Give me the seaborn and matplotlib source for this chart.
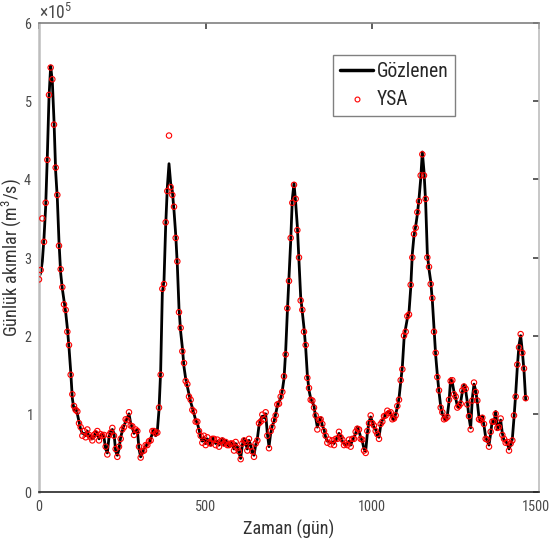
import matplotlib
matplotlib.use("Agg")
import matplotlib.pyplot as plt
import matplotlib.transforms as mtransforms
import seaborn as sns
import pandas as pd
from matplotlib import font_manager as fm
from matplotlib.ticker import ScalarFormatter
from matplotlib.lines import Line2D

# Day index (every 5th day)
days = list(range(0, 1461, 5))

# Observed daily flow (x 1e5 m3/s)
gozlenen = [
    2.75, 2.80, 2.95, 3.25, 3.65, 4.30, 5.05, 5.45, 5.25, 4.75,
    4.10, 3.75, 3.20, 2.80, 2.60, 2.45, 2.30, 2.10, 1.85, 1.55,
    1.20, 1.05, 1.08, 1.00, 0.90, 0.80, 0.75, 0.75, 0.72, 0.78,
    0.70, 0.72, 0.68, 0.70, 0.77, 0.75, 0.68, 0.72, 0.75, 0.70,
    0.55, 0.50, 0.70, 0.78, 0.80, 0.75, 0.52, 0.47, 0.55, 0.70,
    0.78, 0.85, 0.90, 0.95, 1.00, 0.88, 0.82, 0.75, 0.78, 0.80,
    0.55, 0.45, 0.50, 0.55, 0.58, 0.62, 0.63, 0.68, 0.75, 0.80,
    0.72, 0.78, 1.05, 1.55, 2.55, 2.70, 3.40, 3.90, 4.20, 3.95,
    3.85, 3.60, 3.30, 2.90, 2.35, 2.05, 1.85, 1.60, 1.45, 1.35,
    1.25, 1.15, 1.08, 1.00, 0.92, 0.88, 0.80, 0.70, 0.65, 0.70,
    0.62, 0.68, 0.65, 0.60, 0.70, 0.66, 0.62, 0.65, 0.60, 0.63,
    0.68, 0.60, 0.66, 0.62, 0.58, 0.64, 0.60, 0.55, 0.62, 0.58,
    0.50, 0.43, 0.60, 0.68, 0.62, 0.55, 0.66, 0.60, 0.50, 0.47,
    0.60, 0.68, 0.85, 0.93, 0.97, 0.95, 1.00, 0.75, 0.58, 0.75,
    0.85, 0.90, 1.00, 1.10, 1.15, 1.20, 1.30, 1.45, 1.80, 2.30,
    2.75, 3.20, 3.75, 3.95, 3.70, 3.40, 2.95, 2.50, 2.30, 2.10,
    1.85, 1.50, 1.30, 1.20, 1.15, 1.10, 0.95, 0.83, 0.90, 0.95,
    0.85, 0.80, 0.70, 0.65, 0.65, 0.63, 0.64, 0.62, 0.66, 0.70,
    0.75, 0.72, 0.65, 0.62, 0.60, 0.62, 0.65, 0.60, 0.66, 0.70,
    0.75, 0.83, 0.78, 0.70, 0.65, 0.55, 0.52, 0.75, 0.90, 0.96,
    0.90, 0.83, 0.80, 0.72, 0.70, 0.85, 0.92, 0.95, 1.00, 1.02,
    1.03, 1.00, 0.95, 0.92, 1.00, 1.08, 1.20, 1.40, 1.60, 1.95,
    2.10, 2.22, 2.30, 2.60, 3.05, 3.28, 3.40, 3.55, 3.75, 4.00,
    4.35, 4.10, 3.70, 3.05, 2.85, 2.70, 2.45, 2.10, 1.75, 1.50,
    1.28, 1.10, 1.00, 0.95, 0.92, 0.98, 1.15, 1.45, 1.40, 1.28,
    1.20, 1.10, 1.08, 1.15, 1.28, 1.37, 1.30, 1.15, 0.95, 0.82,
    1.20, 1.38, 1.30, 1.15, 0.95, 0.90, 0.97, 0.85, 0.70, 0.65,
    0.60, 0.75, 0.92, 0.88, 1.03, 0.80, 0.85, 0.92, 0.75, 0.66,
    0.65, 0.62, 0.55, 0.60, 0.68, 0.95, 1.25, 1.60, 1.88, 2.00,
    1.80, 1.55, 1.18,
]

# Model (YSA) output (x 1e5 m3/s)
ysa = [
    2.72, 2.84, 3.50, 3.20, 3.70, 4.25, 5.08, 5.43, 5.28, 4.70,
    4.15, 3.80, 3.15, 2.85, 2.62, 2.40, 2.33, 2.05, 1.88, 1.50,
    1.25, 1.10, 1.05, 1.03, 0.88, 0.83, 0.72, 0.78, 0.70, 0.80,
    0.73, 0.70, 0.66, 0.73, 0.75, 0.78, 0.66, 0.74, 0.72, 0.73,
    0.58, 0.48, 0.73, 0.76, 0.82, 0.72, 0.55, 0.45, 0.58, 0.68,
    0.80, 0.83, 0.93, 0.92, 1.02, 0.85, 0.84, 0.73, 0.80, 0.78,
    0.58, 0.44, 0.52, 0.53, 0.60, 0.60, 0.65, 0.66, 0.78, 0.78,
    0.75, 0.76, 1.08, 1.50, 2.60, 2.66, 3.45, 3.85, 4.56, 3.90,
    3.80, 3.65, 3.25, 2.95, 2.30, 2.10, 1.80, 1.65, 1.42, 1.38,
    1.22, 1.18, 1.05, 1.03, 0.90, 0.90, 0.78, 0.72, 0.63, 0.72,
    0.60, 0.70, 0.63, 0.62, 0.68, 0.68, 0.60, 0.67, 0.58, 0.65,
    0.66, 0.62, 0.64, 0.60, 0.60, 0.62, 0.62, 0.53, 0.64, 0.56,
    0.52, 0.42, 0.62, 0.66, 0.64, 0.53, 0.68, 0.58, 0.52, 0.45,
    0.62, 0.66, 0.88, 0.90, 0.99, 0.93, 1.02, 0.72, 0.56, 0.78,
    0.83, 0.92, 0.98, 1.12, 1.13, 1.22, 1.28, 1.48, 1.76, 2.35,
    2.70, 3.25, 3.70, 3.93, 3.75, 3.35, 3.00, 2.45, 2.33, 2.05,
    1.88, 1.46, 1.33, 1.18, 1.17, 1.08, 0.98, 0.80, 0.92, 0.93,
    0.87, 0.78, 0.72, 0.63, 0.67, 0.61, 0.66, 0.60, 0.68, 0.68,
    0.77, 0.70, 0.67, 0.60, 0.62, 0.60, 0.67, 0.58, 0.68, 0.68,
    0.77, 0.81, 0.80, 0.68, 0.67, 0.53, 0.50, 0.78, 0.88, 0.98,
    0.88, 0.85, 0.78, 0.74, 0.68, 0.87, 0.90, 0.97, 0.98, 1.04,
    1.01, 1.02, 0.93, 0.94, 0.98, 1.10, 1.18, 1.43, 1.57, 2.00,
    2.05, 2.25, 2.27, 2.65, 3.00, 3.30, 3.38, 3.58, 3.72, 4.05,
    4.32, 4.05, 3.75, 3.00, 2.88, 2.66, 2.48, 2.05, 1.78, 1.47,
    1.30, 1.08, 1.02, 0.93, 0.94, 0.96, 1.18, 1.42, 1.43, 1.25,
    1.22, 1.08, 1.10, 1.13, 1.30, 1.35, 1.32, 1.12, 0.97, 0.80,
    1.17, 1.40, 1.28, 1.17, 0.93, 0.92, 0.95, 0.87, 0.68, 0.67,
    0.58, 0.77, 0.90, 0.90, 1.00, 0.82, 0.83, 0.94, 0.73, 0.68,
    0.63, 0.64, 0.53, 0.62, 0.66, 0.98, 1.22, 1.63, 1.85, 2.02,
    1.78, 1.58, 1.20,
]

x_ticks = [0, 500, 1000, 1500]
y_ticks = [0, 1e5, 2e5, 3e5, 4e5, 5e5, 6e5]

df = pd.DataFrame({
    "gun": days,
    "gozlenen": [v * 1e5 for v in gozlenen],
    "ysa": [v * 1e5 for v in ysa],
})

sns.set_theme(style="white")

# pick a narrow sans font if one is installed
entries = fm.fontManager.ttflist
names = {f.name for f in entries}
fam, stretch, k = "Liberation Sans", "normal", 0.84
if "Liberation Sans Narrow" in names:
    fam, stretch, k = "Liberation Sans Narrow", "normal", 1.0
elif "Roboto Condensed" in names:
    fam, stretch, k = "Roboto Condensed", "normal", 0.97
plt.rcParams["font.family"] = [fam, "DejaVu Sans"]
plt.rcParams["font.stretch"] = stretch
plt.rcParams["mathtext.fontset"] = "custom"
plt.rcParams["mathtext.rm"] = fam
plt.rcParams["mathtext.it"] = fam

fig = plt.figure(figsize=(5.51, 5.53), dpi=100)
ax = fig.add_axes([39 / 551, 61 / 553, 500 / 551, 469 / 553])

sns.lineplot(data=df, x="gun", y="gozlenen", ax=ax, color="black",
             linewidth=2.0, zorder=2)
sns.scatterplot(data=df, x="gun", y="ysa", ax=ax, marker="o",
                facecolor="none", edgecolor="red", linewidth=0.8, s=15,
                zorder=3)

ax.set_xlim(0, 1500)
ax.set_ylim(0, 6e5)
ax.set_xticks(x_ticks)
ax.set_yticks(y_ticks)

fmt = ScalarFormatter(useMathText=True)
fmt.set_powerlimits((0, 0))
ax.yaxis.set_major_formatter(fmt)
ax.yaxis.get_offset_text().set_fontsize(13 * k)
ax.yaxis.get_offset_text().set_color("#6a6a6a")

ax.tick_params(axis="both", which="major", direction="in", length=4,
               labelsize=10.6 * k, labelcolor="#4a4a4a", color="#4a4a4a",
               top=True, right=True)
ax.tick_params(axis="x", pad=6)
ax.tick_params(axis="y", pad=5)

# keep the last x tick label inside the canvas
fig.canvas.draw()
last = ax.get_xticklabels()[-1]
last.set_transform(last.get_transform() +
                   mtransforms.ScaledTranslation(-3 / 100, 0, fig.dpi_scale_trans))

ax.spines["bottom"].set_color("#262626")
ax.spines["top"].set_color("#808080")
ax.spines["left"].set_color("#bdbdbd")
ax.spines["right"].set_color("#bdbdbd")
for s in ax.spines.values():
    s.set_linewidth(1.2)
ax.spines["left"].set_linewidth(1.8)

ax.set_xlabel("Zaman (gün)", fontsize=13.5 * k, color="#333333", labelpad=4)
ax.set_ylabel("Günlük akımlar (m$^3$/s)", fontsize=13.5 * k, color="#333333",
              labelpad=0)

handles = [
    Line2D([], [], color="black", linewidth=2.5),
    Line2D([], [], color="red", marker="o", linestyle="none",
           markerfacecolor="none", markeredgewidth=0.8, markersize=3.5),
]
leg = ax.legend(handles, ["Gözlenen", "YSA"], loc="upper right",
                bbox_to_anchor=(0.832, 0.932), borderaxespad=0,
                fontsize=14.5 * k, frameon=True, fancybox=False,
                handlelength=1.7, handletextpad=0.15, borderpad=0.35,
                labelspacing=0.5)
leg.get_frame().set_edgecolor("#606060")
leg.get_frame().set_linewidth(1.0)

fig.savefig("out.png", dpi=100)
